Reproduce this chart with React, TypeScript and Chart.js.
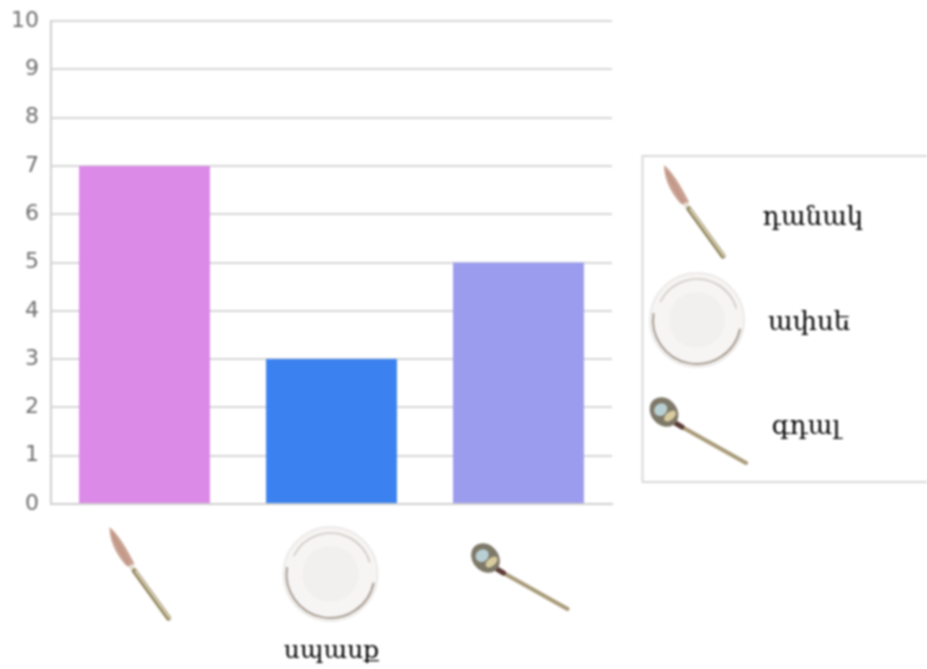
import React, { useEffect, useRef } from "react";
import { Chart, registerables } from "chart.js";

Chart.register(...registerables);

const categories = ["դանակ", "ափսե", "գդալ"];
const values = [7, 3, 5];
const barColors = ["#DC8AE8", "#3B82F0", "#9C9CEE"];
const axisTitle = "սպասք";
const iconKinds = ["knife", "plate", "spoon"];

const serif = "'DejaVu Serif', serif";

function drawKnife(c: CanvasRenderingContext2D, cx: number, cy: number) {
  c.save();
  c.translate(cx, cy);
  c.lineCap = "round";
  // blade
  c.fillStyle = "#C9A090";
  c.beginPath();
  c.moveTo(-31, -47);
  c.quadraticCurveTo(-20, -38, -6, -10);
  c.lineTo(-10, -6);
  c.lineTo(-15, -9);
  c.quadraticCurveTo(-31, -28, -31, -47);
  c.fill();
  c.strokeStyle = "#B08A7C";
  c.lineWidth = 1;
  c.beginPath();
  c.moveTo(-28, -40);
  c.lineTo(-12, -10);
  c.stroke();
  // bolster
  c.strokeStyle = "#E6DFD2";
  c.lineWidth = 5;
  c.lineCap = "butt";
  c.beginPath();
  c.moveTo(-10, -9);
  c.lineTo(-7, -4);
  c.stroke();
  c.lineCap = "round";
  // handle
  c.strokeStyle = "#8F8258";
  c.lineWidth = 5;
  c.beginPath();
  c.moveTo(-6, -3);
  c.lineTo(28, 44);
  c.stroke();
  c.strokeStyle = "#DDD6BC";
  c.lineWidth = 2;
  c.beginPath();
  c.moveTo(-5, -3);
  c.lineTo(29, 44);
  c.stroke();
  c.restore();
}

function drawPlate(c: CanvasRenderingContext2D, cx: number, cy: number) {
  c.save();
  c.translate(cx, cy);
  c.fillStyle = "#F6F5F4";
  c.beginPath();
  c.arc(0, 0, 47, 0, Math.PI * 2);
  c.fill();
  c.strokeStyle = "#E8E6E4";
  c.lineWidth = 1.5;
  c.stroke();
  c.strokeStyle = "#A89C92";
  c.lineWidth = 2;
  c.beginPath();
  c.arc(0, 0, 44, 0.2, 3.3);
  c.stroke();
  c.strokeStyle = "#CFC8C2";
  c.lineWidth = 1.5;
  c.beginPath();
  c.arc(0, 0, 41, 3.6, 6.0);
  c.stroke();
  c.fillStyle = "#F1F0EF";
  c.beginPath();
  c.arc(0, 0, 28, 0, Math.PI * 2);
  c.fill();
  c.restore();
}

function drawSpoon(c: CanvasRenderingContext2D, cx: number, cy: number) {
  c.save();
  c.translate(cx, cy);
  c.lineCap = "round";
  // handle
  c.strokeStyle = "#A89A78";
  c.lineWidth = 4;
  c.beginPath();
  c.moveTo(-20, -9);
  c.lineTo(44, 27);
  c.stroke();
  c.strokeStyle = "#5A3A34";
  c.lineWidth = 5;
  c.beginPath();
  c.moveTo(-30, -15);
  c.lineTo(-20, -9);
  c.stroke();
  // bowl
  c.save();
  c.translate(-38, -24);
  c.rotate(-0.7);
  c.fillStyle = "#7E7868";
  c.beginPath();
  c.ellipse(0, 0, 13, 16, 0, 0, Math.PI * 2);
  c.fill();
  c.fillStyle = "#B8D0D4";
  c.beginPath();
  c.ellipse(-1, -4, 7, 6, 0, 0, Math.PI * 2);
  c.fill();
  c.fillStyle = "#D8CBA0";
  c.beginPath();
  c.ellipse(2, 7, 7, 4, 0, 0, Math.PI * 2);
  c.fill();
  c.restore();
  c.restore();
}

const painters: Record<string, typeof drawKnife> = {
  knife: drawKnife,
  plate: drawPlate,
  spoon: drawSpoon,
};

const axisIconOffsets = [
  [-4, 70],
  [-1, 70],
  [5, 78],
];
const legendIconCentres = [
  [695, 212],
  [697, 320],
  [702, 436],
];
const legendTextCentres = [
  [813, 218],
  [809, 323],
  [806, 427],
];

const pictograms = {
  id: "pictograms",
  afterDraw(chart: any) {
    const c: CanvasRenderingContext2D = chart.ctx;
    const x = chart.scales.x;
    const bottom = chart.scales.y.getPixelForValue(0);
    c.save();
    iconKinds.forEach((kind, i) => {
      const [dx, dy] = axisIconOffsets[i];
      painters[kind](c, x.getPixelForValue(i) + dx, bottom + dy);
    });
    c.strokeStyle = "#D8D8D8";
    c.lineWidth = 2;
    c.strokeRect(642.5, 156, 300, 326);
    iconKinds.forEach((kind, i) => {
      const [lx, ly] = legendIconCentres[i];
      painters[kind](c, lx, ly);
    });
    c.fillStyle = "#000000";
    c.font = `26px ${serif}`;
    c.textAlign = "center";
    c.textBaseline = "middle";
    categories.forEach((name, i) => {
      const [tx, ty] = legendTextCentres[i];
      c.fillText(name, tx, ty);
    });
    c.restore();
  },
};

export default function App() {
  const ref = useRef<HTMLCanvasElement>(null);

  useEffect(() => {
    document.body.style.margin = "0";
    document.body.style.background = "#fff";
    const chart = new Chart(ref.current!, {
      type: "bar",
      data: {
        labels: categories,
        datasets: [
          {
            data: values,
            backgroundColor: barColors,
            categoryPercentage: 0.7,
            barPercentage: 1,
          },
        ],
      },
      options: {
        animation: false,
        responsive: false,
        layout: { padding: { top: 21, right: 315, bottom: 0, left: 0 } },
        plugins: { legend: { display: false }, tooltip: { enabled: false } },
        scales: {
          x: {
            grid: { display: false, drawTicks: false },
            border: { color: "#CFCFCF", width: 2 },
            ticks: { display: false },
            title: {
              display: true,
              text: axisTitle,
              color: "#000000",
              font: { family: serif, size: 25 },
              padding: { top: 0, bottom: 3 },
            },
            afterFit(scale: any) {
              scale.height = 165;
            },
          },
          y: {
            min: 0,
            max: 10,
            grid: { color: "#D6D6D6", lineWidth: 2, drawTicks: false },
            border: { color: "#CFCFCF", width: 2 },
            ticks: {
              stepSize: 1,
              color: "#6E6E6E",
              padding: 12,
              font: { family: "'DejaVu Sans', sans-serif", size: 22 },
            },
            afterFit(scale: any) {
              scale.width = 51;
              scale.paddingTop = 0;
              scale.paddingBottom = 0;
            },
          },
        },
      },
      plugins: [pictograms],
    });
    return () => chart.destroy();
  }, []);

  return (
    <canvas
      ref={ref}
      width={927}
      height={669}
      style={{ position: "absolute", left: 0, top: 0, width: 927, height: 669, filter: "blur(0.8px)" }}
    />
  );
}
